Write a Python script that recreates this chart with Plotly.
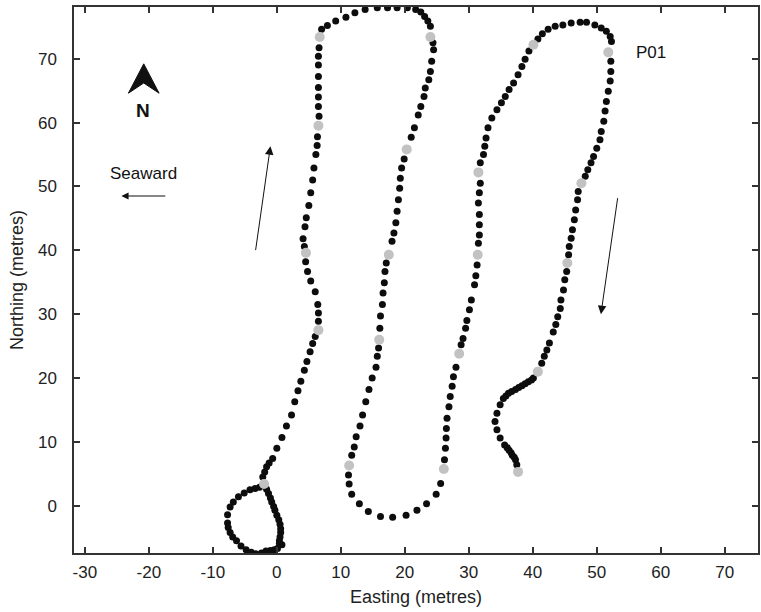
import plotly.graph_objects as go

# Track positions (black dots), Easting / Northing in metres
track_east = [
    0.1, 0.8, 0.4, 0.4, 0.5, 0.6, 0.6, 0.5, 0.3, 0.0, -0.3, -0.5, -0.8, -1.0, -1.3, -1.6,
    -2.7, -3.4, -4.2, -5.1, -6.0, -6.8, -7.3, -7.7, -7.7, -7.6, -7.3, -6.9, -6.3, -5.6, -4.8, -4.0, -3.3, -2.4, -1.7, -1.0, -0.4,
    -2.2, -1.9, -1.6, -1.2, -0.65, 0.0, 0.8, 1.5, 2.3, 2.8, 3.3, 3.75, 4.3, 4.7, 5.2, 5.6, 6.0,
    6.5, 6.5, 6.4, 6.0, 5.3, 4.8, 4.5,
    4.3, 4.1, 4.4, 4.6, 5.0, 5.3, 5.6, 5.8, 6.1, 6.3, 6.35,
    6.6, 6.5, 6.5, 6.5, 6.5, 6.5, 6.5, 6.6,
    7.0, 7.9, 9.2, 10.8, 12.2, 13.8, 15.7, 17.3, 18.8, 20.4, 21.7, 22.5, 23.1, 23.6, 24.0,
    24.4, 24.5, 24.2, 24.0, 23.75, 23.2, 23.0, 22.5, 22.1, 21.5, 21.0,
    19.9, 19.5, 19.3, 19.2, 19.0, 18.8, 18.6, 18.3, 18.0,
    17.1, 16.9, 16.8, 16.6, 16.5, 16.2, 16.1,
    15.9, 15.7, 15.5, 14.9, 14.4, 13.9, 13.4, 13.0, 12.4, 12.1, 11.7,
    11.2, 11.3, 11.7, 12.9, 14.3, 16.2, 18.1, 20.2, 21.9, 23.4, 24.9, 25.6,
    26.2, 26.35, 26.45, 26.5, 26.6, 26.9, 27.1, 27.4, 27.6, 28.0,
    28.8, 29.1, 29.5, 29.7, 30.1, 30.4, 30.9, 31.1, 31.3,
    31.5, 31.65, 31.65, 31.65, 31.5, 31.65, 31.8,
    31.8, 32.3, 32.5, 32.7, 33.0, 33.6, 34.4, 35.1, 35.7, 36.3, 37.0, 37.7, 38.3, 38.8, 39.4,
    40.8, 41.5, 42.4, 43.5, 44.7, 46.0, 47.4, 48.4, 49.7, 50.7, 51.5, 52.1, 52.3,
    52.2, 52.2, 52.1, 51.8, 51.5, 51.3, 51.1, 50.7, 50.5, 50.0, 49.5, 49.1, 48.6, 48.2,
    47.1, 47.0, 46.7, 46.5, 46.2, 46.0, 45.7, 45.6,
    45.3, 45.0, 44.8, 44.4, 44.3, 43.9, 43.6, 43.2, 42.6, 42.2, 41.8, 41.4,
    40.1, 39.8, 39.3, 38.8, 38.3, 37.8, 37.3, 36.7, 36.2, 35.8, 35.4, 34.9, 34.4, 34.1, 34.4, 34.9,
    35.6, 36.0, 36.3, 36.6, 36.8, 37.1, 37.3, 37.5,
]
track_north = [
    -6.7, -6.1, -5.9, -5.5, -4.9, -4.2, -3.6, -2.9, -2.2, -1.5, -0.7, -0.1, 0.6, 1.2, 1.9, 2.6,
    2.9, 2.7, 2.5, 2.0, 1.4, 0.6, -0.2, -1.4, -2.7, -3.4, -4.2, -4.9, -5.5, -6.3, -6.9, -7.3, -7.5, -7.4, -7.1, -7.0, -6.9,
    4.5, 5.3, 6.1, 6.7, 7.4, 9.0, 10.7, 12.5, 14.2, 16.3, 18.0, 19.5, 21.2, 22.6, 24.1, 25.4, 26.5,
    28.9, 30.2, 31.5, 33.5, 35.2, 36.7, 38.2,
    40.6, 41.8, 43.7, 45.1, 47.0, 49.0, 51.0, 52.9, 55.0, 56.4, 57.8,
    61.0, 62.5, 64.0, 65.5, 67.2, 69.0, 70.4, 71.7,
    74.6, 75.2, 75.9, 76.5, 77.2, 77.7, 78.0, 78.0, 78.0, 78.0, 77.7, 77.3, 76.6, 75.9, 75.1,
    72.5, 71.4, 69.6, 68.0, 66.7, 65.4, 64.1, 62.5, 61.2, 59.2, 57.7,
    54.3, 52.9, 51.3, 49.7, 47.9, 46.1, 44.3, 42.7, 41.4,
    38.0, 36.7, 34.9, 33.3, 31.5, 29.7, 27.8,
    24.7, 23.4, 21.7, 20.0, 18.2, 16.3, 14.2, 12.5, 10.8, 9.2, 7.9,
    4.8, 3.4, 1.8, 0.3, -0.9, -1.7, -1.8, -1.5, -0.7, 0.3, 1.8, 3.5,
    7.2, 9.0, 10.6, 12.1, 13.7, 15.5, 17.1, 18.7, 20.2, 21.7,
    25.2, 26.2, 27.8, 29.0, 30.7, 32.2, 34.6, 36.0, 37.7,
    41.1, 42.4, 44.0, 45.6, 47.4, 49.0, 50.5,
    53.7, 55.0, 56.3, 57.6, 59.2, 60.7, 62.0, 63.1, 64.1, 65.2, 66.2, 67.5, 68.8, 69.9, 71.2,
    73.1, 73.9, 74.6, 75.1, 75.3, 75.6, 75.7, 75.7, 75.3, 74.8, 74.3, 73.5, 72.7,
    69.6, 68.0, 66.5, 64.9, 63.3, 61.8, 60.2, 58.6, 57.3, 56.0, 54.7, 53.7, 52.6, 51.6,
    49.2, 47.9, 46.3, 44.8, 43.2, 41.9, 40.6, 39.3,
    36.7, 35.4, 33.8, 32.2, 30.9, 29.6, 28.4, 27.2, 25.5, 24.4, 23.4, 22.3,
    20.0, 19.7, 19.4, 19.1, 18.8, 18.5, 18.2, 17.9, 17.6, 17.2, 16.8, 15.8, 14.5, 13.2, 11.9, 10.6,
    9.5, 9.1, 8.7, 8.3, 7.9, 7.6, 7.2, 6.4,
]

# Marker positions (grey dots)
marker_east = [-2.0, 6.5, 4.55, 6.5, 6.7, 24.0, 20.3, 17.5, 16.0, 11.3,
               26.1, 28.5, 31.4, 31.5, 40.1, 51.8, 47.6, 45.4, 40.8, 37.7]
marker_north = [3.4, 27.5, 39.6, 59.5, 73.4, 73.4, 55.8, 39.3, 26.0, 6.3,
                5.75, 23.8, 39.3, 52.2, 72.2, 71.0, 50.5, 38.0, 21.0, 5.3]

x_ticks = [-30, -20, -10, 0, 10, 20, 30, 40, 50, 60, 70]
x_tick_labels = ["-30", "-20", "-10", "0", "10", "20", "30", "40", "50", "60", "70"]
y_ticks = [0, 10, 20, 30, 40, 50, 60, 70]
y_tick_labels = ["0", "10", "20", "30", "40", "50", "60", "70"]

FONT = "Liberation Sans, Arial, sans-serif"

fig = go.Figure()
fig.add_trace(go.Scatter(x=track_east, y=track_north, mode="markers",
                         marker=dict(color="#0d0d0d", size=7, line=dict(width=0)),
                         showlegend=False, hoverinfo="skip"))
fig.add_trace(go.Scatter(x=marker_east, y=marker_north, mode="markers",
                         marker=dict(color="#c2c2c2", size=10, line=dict(width=0)),
                         showlegend=False, hoverinfo="skip"))

# North arrow head
fig.add_shape(type="path", xref="x", yref="y",
              path="M -20.8 69.2 L -18.4 64.6 L -20.8 66.2 L -23.2 64.6 Z",
              fillcolor="#111", line=dict(color="#111", width=1))

annotations = [
    dict(x=-20.9, y=61.9, text="<b>N</b>", showarrow=False,
         font=dict(size=19, color="#111", family=FONT)),
    dict(x=-20.8, y=52.1, text="Seaward", showarrow=False,
         font=dict(size=17, color="#111", family=FONT)),
    dict(x=-24.3, y=48.5, ax=-17.2, ay=48.5, axref="x", ayref="y", xref="x", yref="y",
         text="", showarrow=True, arrowhead=2, arrowsize=1.2, arrowwidth=1.2, arrowcolor="#111"),
    dict(x=-1.0, y=56.3, ax=-3.35, ay=39.8, axref="x", ayref="y", xref="x", yref="y",
         text="", showarrow=True, arrowhead=2, arrowsize=1.7, arrowwidth=1, arrowcolor="#111"),
    dict(x=50.65, y=30.0, ax=53.3, ay=48.4, axref="x", ayref="y", xref="x", yref="y",
         text="", showarrow=True, arrowhead=2, arrowsize=1.7, arrowwidth=1, arrowcolor="#111"),
    dict(x=58.4, y=71.0, text="P01", showarrow=False,
         font=dict(size=17, color="#111", family=FONT)),
]

axis_common = dict(
    showline=True, linecolor="#333", linewidth=1.5, mirror="allticks",
    ticks="inside", ticklen=6, tickwidth=1.5, tickcolor="#333",
    showgrid=False, zeroline=False,
    tickfont=dict(size=17, color="#222", family=FONT),
)

fig.update_layout(
    width=761, height=612,
    margin=dict(l=74, r=1, t=7, b=59),
    paper_bgcolor="white", plot_bgcolor="white",
    font=dict(family=FONT, color="#222"),
    xaxis=dict(range=[-31.7, 75.2], tickvals=x_ticks, ticktext=x_tick_labels, ticklabelstandoff=3,
               title=dict(text="Easting (metres)", font=dict(size=18, family=FONT), standoff=9),
               **axis_common),
    yaxis=dict(range=[-7.4, 78.1], tickvals=y_ticks, ticktext=y_tick_labels, ticklabelstandoff=12,
               title=dict(text="Northing (metres)", font=dict(size=18, family=FONT), standoff=10),
               **axis_common),
    annotations=annotations,
)

fig.write_html("out.html")
